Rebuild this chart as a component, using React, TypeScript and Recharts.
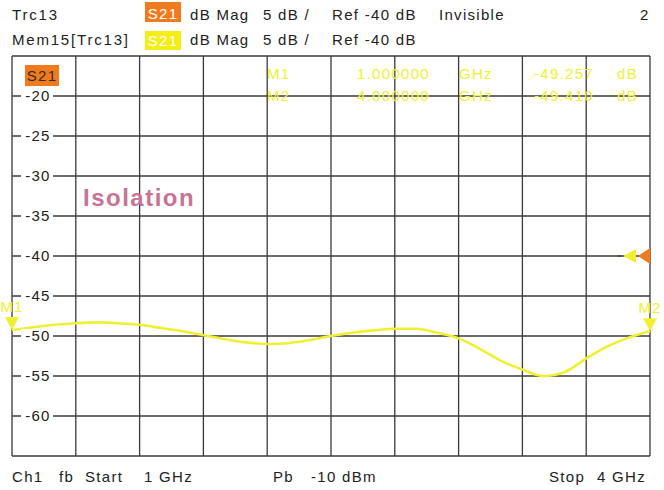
import { LineChart, Line, XAxis, YAxis, CartesianGrid, ReferenceDot } from 'recharts';

// Mem15[Trc13] S21 trace, dB Mag at 0.1 GHz steps
const freqGHz = [
  1.0, 1.1, 1.2, 1.3, 1.4, 1.5, 1.6, 1.7, 1.8, 1.9, 2.0,
  2.1, 2.2, 2.3, 2.4, 2.5, 2.6, 2.7, 2.8, 2.9, 3.0,
  3.1, 3.2, 3.3, 3.4, 3.5, 3.6, 3.7, 3.8, 3.9, 4.0,
];
const s21dB = [
  -49.26, -48.9, -48.6, -48.4, -48.3, -48.4, -48.6, -49.0, -49.4, -49.9, -50.4,
  -50.8, -51.0, -50.9, -50.5, -50.0, -49.6, -49.3, -49.1, -49.1, -49.6,
  -50.3, -51.6, -53.1, -54.2, -55.0, -54.5, -52.8, -51.3, -50.2, -49.41,
];

const xTicks = [1, 1.3, 1.6, 1.9, 2.2, 2.5, 2.8, 3.1, 3.4, 3.7, 4];
const yTicks = [-65, -60, -55, -50, -45, -40, -35, -30, -25, -20, -15];
const yLabels = [-60, -55, -50, -45, -40, -35, -30, -25, -20];

const markerNames = ['M1', 'M2'];
const markerFreqs = [1, 4];
const markerValues = [-49.257, -49.41];
const refLevel = -40;

const data = freqGHz.map((f, i) => ({ f, db: s21dB[i] }));

const FONT = '"Liberation Sans", Arial, sans-serif';
const YELLOW = '#f0f032';
const ORANGE = '#f07a1e';

const NoTick = () => <g />;

const YTick = (props: any) => {
  const { x, y, payload } = props;
  if (!yLabels.includes(payload.value)) return <g />;
  return (
    <g>
      <rect x={x + 9} y={y - 7} width={32} height={14} fill="#fff" />
      <text x={x + 26} y={y + 5} textAnchor="middle" fontSize={15} letterSpacing={1.2} fill="#222" fontFamily={FONT}>
        {payload.value}
      </text>
    </g>
  );
};

const markerShape = (name: string) => (p: any) => (
  <g>
    <polygon points={`${p.cx - 7},${p.cy - 13} ${p.cx + 7},${p.cy - 13} ${p.cx},${p.cy}`} fill={YELLOW} />
    <text x={p.cx} y={p.cy - 18} textAnchor="middle" fontSize={15} fill={YELLOW} fontFamily={FONT} letterSpacing={1}>
      {name}
    </text>
  </g>
);

const refShape = (p: any) => (
  <g>
    <line x1={p.cx - 32} y1={p.cy} x2={p.cx - 24} y2={p.cy} stroke="#333" strokeDasharray="3 2" />
    <polygon points={`${p.cx - 27},${p.cy} ${p.cx - 14},${p.cy - 7} ${p.cx - 14},${p.cy + 7}`} fill={YELLOW} />
    <polygon points={`${p.cx - 12},${p.cy} ${p.cx},${p.cy - 8} ${p.cx},${p.cy + 8}`} fill={ORANGE} />
  </g>
);

const T = (props: any) => (
  <text fontSize={15} letterSpacing={1.3} fontFamily={FONT} fill="#222" {...props} />
);

export default function App() {
  return (
    <div style={{ position: 'absolute', left: 0, top: 0, width: 664, height: 490, background: '#fff' }}>
      <LineChart width={664} height={490} data={data} margin={{ top: 56, right: 14, bottom: 33, left: 11 }}>
        <CartesianGrid stroke="#3a3a3a" strokeWidth={1.3} strokeOpacity={1} />
        <XAxis
          dataKey="f"
          type="number"
          domain={[1, 4]}
          ticks={xTicks}
          interval={0}
          height={1}
          tick={<NoTick />}
          tickLine={false}
          axisLine={false}
        />
        <YAxis
          type="number"
          domain={[-65, -15]}
          ticks={yTicks}
          width={1}
          tickSize={0}
          tickMargin={0}
          axisLine={false}
          tickLine={false}
          tick={<YTick />}
          interval={0}
        />
        <Line dataKey="db" type="monotone" stroke={YELLOW} strokeWidth={2.6} dot={false} isAnimationActive={false} />
        {markerFreqs.map((f, i) => (
          <ReferenceDot key={markerNames[i]} x={f} y={markerValues[i]} shape={markerShape(markerNames[i])} />
        ))}
        <ReferenceDot x={4} y={refLevel} shape={refShape} />
      </LineChart>

      <svg width={664} height={490} style={{ position: 'absolute', left: 0, top: 0, pointerEvents: 'none' }}>
        {/* header */}
        <rect x={145} y={2} width={36} height={20} fill={ORANGE} />
        <rect x={145} y={31} width={36} height={19} fill="#f5ee14" />
        <T x={12} y={20} letterSpacing={1.8}>Trc13</T>
        <T x={163} y={19} fill="#fff" textAnchor="middle">S21</T>
        <T x={190} y={20}>dB Mag</T>
        <T x={263} y={20}>5 dB /</T>
        <T x={332} y={20}>Ref -40 dB</T>
        <T x={439} y={20}>Invisible</T>
        <T x={640} y={20}>2</T>
        <T x={12} y={45} letterSpacing={1.8}>Mem15[Trc13]</T>
        <T x={163} y={46} fill="#fff" textAnchor="middle">S21</T>
        <T x={190} y={45}>dB Mag</T>
        <T x={263} y={45}>5 dB /</T>
        <T x={332} y={45}>Ref -40 dB</T>

        {/* trace label in plot */}
        <rect x={25} y={65} width={34} height={21} fill={ORANGE} />
        <T x={42} y={81} textAnchor="middle" fill="#3a2a1a">S21</T>
        <text x={83} y={206} fontSize={24} fontWeight="bold" letterSpacing={1.5} fill="#c87396" fontFamily={FONT}>
          Isolation
        </text>

        {/* marker readout */}
        {markerNames.map((m, i) => {
          const y = 79 + i * 22;
          return (
            <g key={m}>
              <T x={267} y={y} fill={YELLOW}>{m}</T>
              <T x={357} y={y} fill={YELLOW}>{markerFreqs[i].toFixed(6)}</T>
              <T x={459} y={y} fill={YELLOW}>GHz</T>
              <T x={534} y={y} fill={YELLOW}>{markerValues[i].toFixed(3)}</T>
              <T x={617} y={y} fill={YELLOW}>dB</T>
            </g>
          );
        })}

        {/* footer */}
        <T x={12} y={482}>Ch1</T>
        <T x={59} y={482}>fb</T>
        <T x={85} y={482}>Start</T>
        <T x={144} y={482}>1 GHz</T>
        <T x={273} y={482}>Pb</T>
        <T x={311} y={482}>-10 dBm</T>
        <T x={549} y={482}>Stop</T>
        <T x={597} y={482}>4 GHz</T>
      </svg>
    </div>
  );
}
